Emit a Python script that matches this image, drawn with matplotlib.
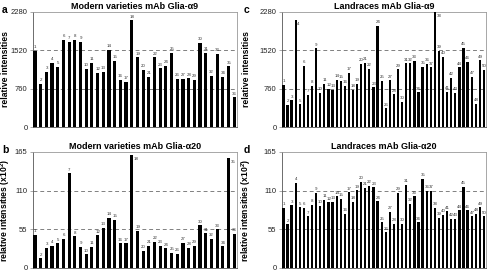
import matplotlib
matplotlib.use("Agg")
import matplotlib.pyplot as plt
import numpy as np

plt.rcParams['font.family'] = ['Liberation Sans', 'DejaVu Sans']

# Panel a: Modern varieties mAb Glia-a9 (36 bars)
modern_a9 = [1510, 851, 1097, 1277, 1197, 1722, 1689, 1729, 1682, 1150,
             1277, 1077, 1090, 1536, 1317, 931, 891, 2115, 1383, 1130,
             997, 1383, 1164, 1210, 1476, 958, 958, 964, 931, 1669,
             1463, 1017, 1443, 997, 1204, 585]
# Panel b: Modern varieties mAb Glia-a20 (x10^2)
modern_a20 = [46.9, 13.7, 28.4, 31.3, 35.1, 41.7, 134.6, 45.0, 29.9, 19.4,
              29.9, 46.5, 56.9, 71.6, 68.3, 35.1, 35.1, 161.2, 52.6, 24.2,
              31.3, 37.0, 31.3, 28.0, 21.8, 20.4, 36.0, 28.9, 31.8, 60.7,
              49.3, 41.7, 55.0, 30.8, 156.4, 48.3]
# Panel c: Landraces mAb Glia-a9 (50 bars)
land_a9 = [833, 436, 529, 2122, 449, 1216, 635, 813, 1560, 681,
           859, 754, 734, 932, 912, 813, 1077, 740, 859, 1256,
           1269, 1157, 787, 2009, 912, 370, 925, 648, 1143, 496,
           1262, 1262, 1309, 687, 1196, 1256, 1183, 2280, 1514, 1388,
           700, 978, 674, 1183, 1573, 1289, 998, 456, 1322, 1130]
# Panel d: Landraces mAb Glia-a20 (x10^2)
land_a20 = [85.3, 62.1, 89.1, 121.3, 86.3, 85.3, 73.5, 90.1, 106.7, 88.6,
            97.2, 93.4, 93.9, 101.9, 98.1, 76.8, 107.6, 93.9, 110.4, 122.3,
            113.8, 116.6, 114.7, 94.8, 64.9, 50.7, 79.6, 63.0, 106.7, 62.6,
            118.5, 91.5, 101.9, 64.9, 126.6, 110.0, 110.0, 85.3, 71.1, 75.8,
            80.6, 69.7, 69.7, 82.0, 115.2, 82.0, 73.5, 77.3, 86.3, 73.5]

ticks_a9 = [0, 760, 1520, 2280]
ticks_a20 = [0, 55, 110, 165]

titles = ["Modern varieties mAb Glia-\u03b19", "Modern varieties mAb Glia-\u03b120",
          "Landraces mAb Glia-\u03b19", "Landraces mAb Glia-\u03b120"]
letters = ["a", "b", "c", "d"]
ylabels = ["relative intensities", "relative intensities (x10$^{\\mathregular{2}}$)",
           "relative intensities", "relative intensities (x10$^{\\mathregular{2}}$)"]

W, H = 488, 272
fig = plt.figure(figsize=(W / 100, H / 100), dpi=100)

# (left, right, top, bottom) in pixels
boxes = [(33, 237, 12, 127), (33, 237, 152, 268), (282, 486, 12, 127), (282, 486, 152, 268)]
label_x = [5.5, 5.5, 246.5, 246.5]
letter_x = [2, 2, 244, 244]
datas = [modern_a9, modern_a20, land_a9, land_a20]
tickss = [ticks_a9, ticks_a20, ticks_a9, ticks_a20]

for i in range(4):
    l, r, t, b = boxes[i]
    ax = fig.add_axes([l / W, 1 - b / H, (r - l) / W, (b - t) / H])
    vals = datas[i]
    tk = tickss[i]
    n = len(vals)
    x = np.arange(n)
    ax.bar(x, vals, width=0.55, color='black', zorder=3)
    ymax = tk[-1]
    ax.set_ylim(0, ymax)
    ax.set_xlim(-0.35, n - 0.5)
    for g in tk[1:-1]:
        ax.axhline(g, color='#808080', linestyle=(0, (4, 3)), linewidth=0.7, zorder=1)
    ax.set_yticks(tk)
    ax.set_yticklabels([str(v) for v in tk], fontsize=5.5, color='#222222')
    ax.set_xticks([])
    ax.tick_params(axis='y', length=2.5, width=0.5, color='#888888', pad=1.5)
    for s in ax.spines.values():
        s.set_color('#999999')
        s.set_linewidth(0.6)
    ax.spines['left'].set_color('#555555')
    ax.spines['bottom'].set_color('#555555')
    for j, v in enumerate(vals):
        if v > 0.93 * ymax:
            ax.text(j + 0.4, v - 0.02 * ymax, str(j + 1), fontsize=3.2, color='#333333',
                    ha='left', va='top', zorder=4)
        else:
            ax.text(j + 0.05, v + 0.015 * ymax, str(j + 1), fontsize=3.2, color='#333333',
                    ha='center', va='bottom', zorder=4)
    ax.set_title(titles[i], fontsize=6.5, fontweight='bold', pad=2.5)
    ax.set_ylabel(ylabels[i], fontsize=6.2, fontweight='bold')
    ax.yaxis.label.set_va('center')
    ax.yaxis.set_label_coords((label_x[i] - l) / (r - l), 0.5)
    fig.text(letter_x[i] / W, 1 - (t - 2) / H, letters[i], fontsize=7.5, fontweight='bold',
             ha='left', va='center')

fig.savefig("out.png", dpi=100)
